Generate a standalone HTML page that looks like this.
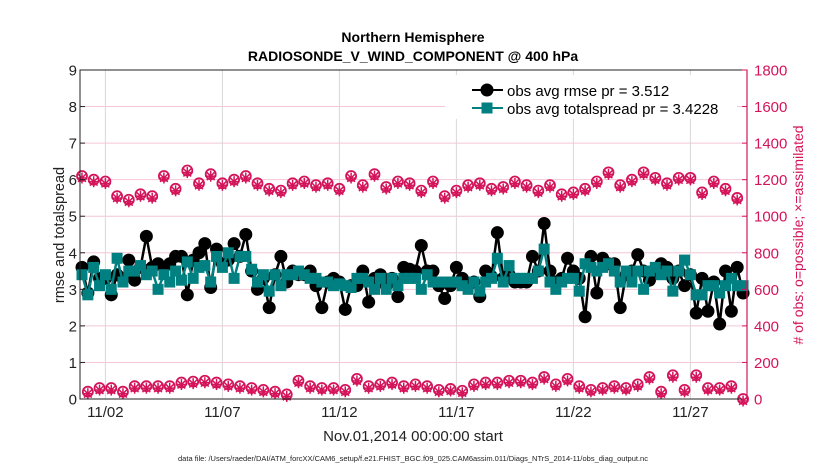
<!DOCTYPE html>
<html><head><meta charset="utf-8">
<style>
body{margin:0;background:#fff;}
svg{display:block;font-family:"Liberation Sans",sans-serif;}
</style></head>
<body>
<svg id="chart" width="830" height="470" viewBox="0 0 830 470">
<rect width="830" height="470" fill="#fff"/>
<text x="413" y="42" text-anchor="middle" font-size="14" font-weight="bold">Northern Hemisphere</text>
<text x="413" y="61" text-anchor="middle" font-size="14" font-weight="bold">RADIOSONDE_V_WIND_COMPONENT @ 400 hPa</text>
<g id="grid"></g>
<g id="marks"></g>
<rect x="80" y="70" width="667" height="329" fill="none" stroke="#222" stroke-width="1"/>
<line x1="747" y1="70" x2="747" y2="399" stroke="#d4145a" stroke-width="1.2"/>
<g id="axes"></g>
<text transform="translate(64,235) rotate(-90)" text-anchor="middle" font-size="14.5" fill="#222">rmse and totalspread</text>
<text transform="translate(803,235) rotate(-90)" text-anchor="middle" font-size="14" fill="#d4145a"># of obs: o=possible; ×=assimilated</text>
<text x="413" y="441" text-anchor="middle" font-size="15" fill="#222">Nov.01,2014 00:00:00 start</text>
<text x="413" y="461" text-anchor="middle" font-size="7.5" fill="#222">data file: /Users/raeder/DAI/ATM_forcXX/CAM6_setup/f.e21.FHIST_BGC.f09_025.CAM6assim.011/Diags_NTrS_2014-11/obs_diag_output.nc</text>
<g>
<rect x="445" y="75" width="292" height="44" fill="#fff"/>
<line x1="472" y1="90" x2="503" y2="90" stroke="#000" stroke-width="2"/>
<circle cx="487" cy="90" r="6.5" fill="#000"/>
<text x="507" y="96" font-size="15">obs avg rmse pr = 3.512</text>
<line x1="472" y1="108" x2="503" y2="108" stroke="#008080" stroke-width="2"/>
<rect x="481.5" y="102.5" width="11" height="11" fill="#008080"/>
<text x="507" y="114" font-size="15">obs avg totalspread pr = 3.4228</text>
</g>
</svg>
<script>
const yTicks=[0,1,2,3,4,5,6,7,8,9];
const rTicks=[0,200,400,600,800,1000,1200,1400,1600,1800];
const xTickDays=[1,6,11,16,21,26];
const xTickLabels=["11/02","11/07","11/12","11/17","11/22","11/27"];
const rmse=[3.6,2.9,3.75,3.3,3.3,2.85,3.4,3.3,3.8,3.25,3.6,4.45,3.6,3.7,3.6,3.7,3.9,3.9,2.85,3.8,4.0,4.25,3.05,4.1,3.7,3.8,4.25,3.9,4.5,3.5,3.0,3.3,2.5,3.4,3.9,3.2,3.5,3.4,3.4,3.5,3.1,2.5,3.2,3.3,3.2,2.45,3.1,3.1,3.5,2.65,3.3,3.4,3.1,3.3,2.8,3.6,3.55,3.5,4.2,3.5,3.5,3.1,2.75,3.1,3.6,3.3,3.1,3.2,2.8,3.5,3.35,4.55,3.3,3.4,3.2,3.2,3.2,3.9,3.5,4.8,3.5,3.2,3.3,3.85,3.5,3.3,2.25,3.9,2.9,3.85,3.7,3.7,2.5,3.4,3.5,3.95,3.5,3.25,3.5,3.7,3.6,3.3,3.5,3.1,3.4,2.35,3.3,2.4,3.2,2.05,3.5,2.4,3.6,2.9];
const spread=[3.4,2.85,3.6,3.1,3.4,3.0,3.85,3.2,3.5,3.5,3.65,3.4,3.5,3.0,3.4,3.2,3.5,3.25,3.75,3.3,3.6,3.65,3.2,3.9,3.6,4.0,3.3,3.9,3.9,3.55,3.2,3.4,2.95,3.4,3.1,3.4,3.4,3.5,3.4,3.3,3.3,3.2,3.2,3.1,3.15,3.1,3.05,3.3,3.3,3.2,3.0,3.3,3.0,3.3,3.1,3.3,3.3,3.3,3.0,3.4,3.2,3.2,3.2,3.2,3.2,3.1,3.0,3.2,2.95,3.2,3.3,3.85,3.2,3.65,3.3,3.3,3.3,3.3,3.5,4.1,3.2,3.0,3.2,3.3,3.3,2.95,3.7,3.6,3.5,3.6,3.7,3.5,3.2,3.5,3.2,3.5,3.0,3.5,3.6,3.4,3.5,2.95,3.5,3.8,3.4,2.85,2.85,3.1,3.1,2.9,3.1,3.3,3.1,3.1];
const obsHigh=[1220,1200,1190,1110,1090,1120,1110,1220,1150,1250,1180,1230,1180,1200,1220,1180,1150,1140,1180,1190,1170,1180,1150,1220,1170,1230,1160,1190,1180,1140,1190,1110,1140,1170,1180,1150,1160,1190,1170,1140,1170,1120,1130,1150,1190,1240,1170,1200,1240,1210,1180,1210,1210,1130,1190,1150,1100];
const obsLow=[40,60,60,40,70,70,70,70,90,95,100,90,80,70,60,50,40,25,100,70,60,60,50,110,70,80,90,70,80,70,50,55,45,80,90,90,100,100,90,120,80,110,70,50,60,70,60,80,120,40,130,50,130,60,60,70,0];

const NS="http://www.w3.org/2000/svg";
const X0=82,PX_PER_DAY=23.4,Y0=399,Y9=70;
function xs(d){return X0+d*PX_PER_DAY;}
function yl(v){return Y0-(Y0-Y9)*v/9;}
function yr(c){return Y0-(Y0-Y9)*c/1800;}
function mk(tag,attrs,parent){const e=document.createElementNS(NS,tag);for(const k in attrs)e.setAttribute(k,attrs[k]);parent.appendChild(e);return e;}
const grid=document.getElementById('grid'),marks=document.getElementById('marks'),axes=document.getElementById('axes');

yTicks.forEach((v,i)=>{
  if(v>0&&v<9){const l=mk('line',{x1:80,x2:747,y1:yl(v),y2:yl(v),stroke:'#f4c6d6','stroke-width':1},grid);
  
  }
  const t=mk('text',{x:77,y:yl(v)+5.5,'text-anchor':'end','font-size':15,fill:'#222'},axes);t.textContent=v;
  
  
  mk('line',{x1:80,x2:85,y1:yl(v),y2:yl(v),stroke:'#222'},axes);
});
rTicks.forEach(c=>{
  const t=mk('text',{x:754,y:yr(c)+5.5,'font-size':15,fill:'#d4145a'},axes);t.textContent=c;
  
  
  mk('line',{x1:742,x2:747,y1:yr(c),y2:yr(c),stroke:'#d4145a'},axes);
});
xTickDays.forEach((d,i)=>{
  const l=mk('line',{x1:xs(d),x2:xs(d),y1:70,y2:399,stroke:'#d8d8d8','stroke-width':1},grid);
  
  
  const t=mk('text',{x:xs(d),y:417,'text-anchor':'middle','font-size':15,fill:'#222'},axes);t.textContent=xTickLabels[i];
  
  
});

function drawCount(c,d){
  const x=xs(d),y=yr(c),g=mk('g',{},marks);
  
  
  mk('circle',{cx:x,cy:y,r:5,fill:'none',stroke:'#d4145a','stroke-width':1.8},g);
  for(let a=0;a<4;a++){const ang=a*Math.PI/4,r=5.5;
    mk('line',{x1:x-r*Math.cos(ang),y1:y+2-r*Math.sin(ang),x2:x+r*Math.cos(ang),y2:y+2+r*Math.sin(ang),stroke:'#d4145a','stroke-width':1.5},g);}
}
obsHigh.forEach((c,k)=>drawCount(c,k*0.5));
obsLow.forEach((c,k)=>drawCount(c,0.25+k*0.5));

function series(vals,color,name,square){
  const pts=vals.map((v,i)=>xs(i*0.25)+','+yl(v)).join(' ');
  const pl=mk('polyline',{points:pts,fill:'none',stroke:color,'stroke-width':2.5},marks);
  
  
  vals.forEach((v,i)=>{
    let m;
    if(square)m=mk('rect',{x:xs(i*0.25)-5.5,y:yl(v)-5.5,width:11,height:11,fill:color},marks);
    else m=mk('circle',{cx:xs(i*0.25),cy:yl(v),r:6.5,fill:color},marks);
    
    
  });
}
series(rmse,'#000','rmse',false);
series(spread,'#008080','totalspread',true);
</script>
</body></html>
